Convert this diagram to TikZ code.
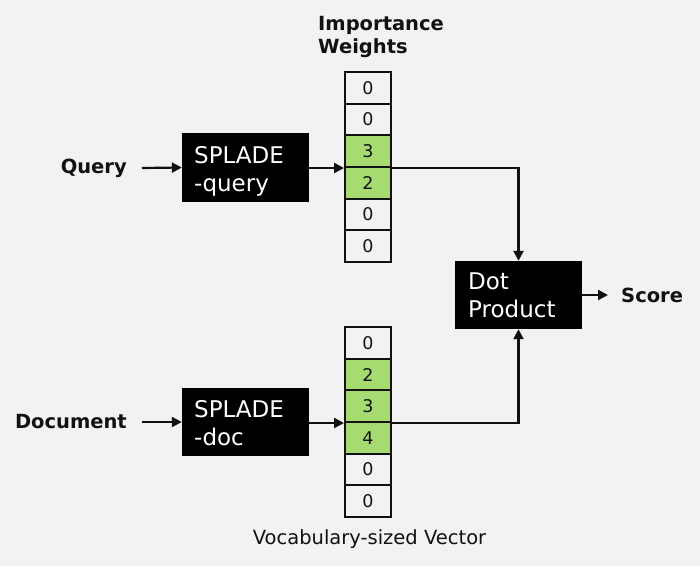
\documentclass[tikz,border=0pt]{standalone}
\usepackage{fontspec}
\setmainfont{DejaVu Sans}
\usetikzlibrary{arrows.meta}
\definecolor{bg}{HTML}{F2F2F2}
\definecolor{hit}{RGB}{166,219,114}
\definecolor{ink}{HTML}{111111}
\tikzset{
  cell/.style={draw=ink, line width=2pt, minimum width=46pt, minimum height=31.67pt,
    inner sep=0pt, text=ink, font=\fontsize{17.5}{17.5}\selectfont},
  encbox/.style={fill=black, draw=none, inner sep=0pt},
  enctext/.style={text=white, inner sep=0pt, align=left, anchor=north west,
    font=\fontsize{23}{28}\selectfont},
  lbl/.style={text=ink, inner sep=0pt, font=\fontsize{19.5}{23}\selectfont\bfseries},
  arr/.style={draw=ink, line width=2.2pt, -{Triangle[length=10pt,width=10pt]}},
}
\begin{document}
\begin{tikzpicture}[x=1pt,y=-1pt]
  \path[use as bounding box, fill=bg] (0,0) rectangle (700,566);

  % header and footer captions
  \node[lbl, align=left, anchor=north west] (imp) at (318,16) {Importance\\Weights};
  \node[text=ink, inner sep=0pt, anchor=base, font=\fontsize{19.5}{23}\selectfont]
    (vocab) at (369.5,544) {Vocabulary-sized Vector};

  % sparse vectors
  \foreach \v/\c [count=\i] in {0/bg,0/bg,3/hit,2/hit,0/bg,0/bg}
    \node[cell, fill=\c] (q\i) at (368,{72+31.67*(\i-0.5)}) {\v};
  \foreach \v/\c [count=\i] in {0/bg,2/hit,3/hit,4/hit,0/bg,0/bg}
    \node[cell, fill=\c] (d\i) at (368,{327+31.67*(\i-0.5)}) {\v};

  % encoders and scorer
  \node[encbox, minimum width=127pt, minimum height=69pt] (qenc) at (245.5,167.5) {};
  \node[enctext] (qenct) at (194,146.2) {SPLADE\\-query};
  \node[encbox, minimum width=127pt, minimum height=68pt] (denc) at (245.5,422) {};
  \node[enctext] (denct) at (194,399.9) {SPLADE\\-doc};
  \node[encbox, minimum width=127pt, minimum height=68pt] (dot) at (518.5,295) {};
  \node[enctext] (dott) at (468,272.2) {Dot\\Product};

  % inputs and output
  \node[lbl, anchor=east] (query) at (127,168) {Query};
  \node[lbl, anchor=east] (doc) at (127,422) {Document};
  \node[lbl, anchor=west] (score) at (621,295) {Score};

  % connectors
  \draw[arr] ([xshift=15pt]query.east) -- (qenc.west);
  \draw[arr] ([xshift=15pt]doc.east) -- (denc.west);
  \draw[arr] (qenc.east |- q3.south west) -- (q3.south west);
  \draw[arr] (denc.east |- d3.south west) -- (d3.south west);
  \draw[arr] (q3.south east) -| (dot.north);
  \draw[arr] (d3.south east) -| (dot.south);
  \draw[arr] (dot.east) -- ([xshift=-13pt]score.west);
\end{tikzpicture}
\end{document}
